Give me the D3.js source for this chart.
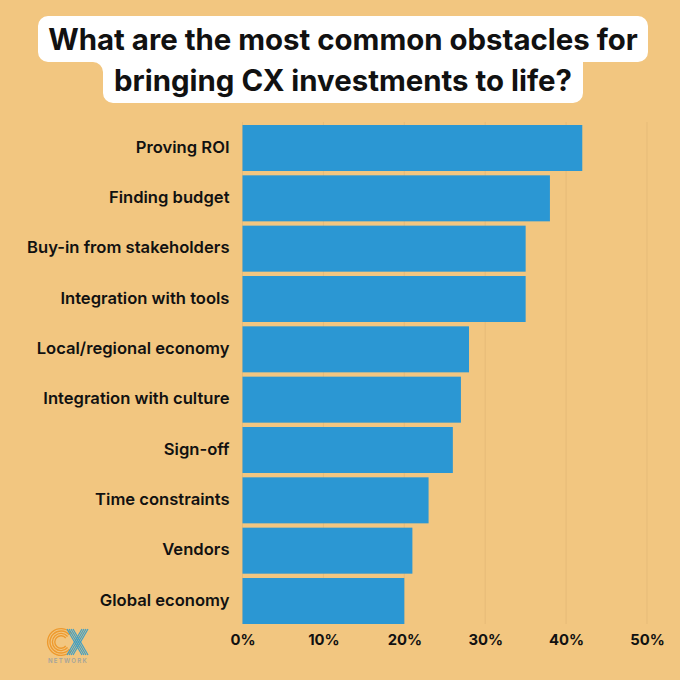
<!DOCTYPE html>
<html>
<head>
<meta charset="utf-8">
<script src="https://cdn.jsdelivr.net/npm/d3@7"></script>
<style>
  html, body { margin: 0; padding: 0; background: #f2c680; }
  svg { display: block; font-family: Inter, sans-serif; }
</style>
</head>
<body>
<div id="chart"></div>
<script>
const categories = ['Proving ROI', 'Finding budget', 'Buy-in from stakeholders', 'Integration with tools',
  'Local/regional economy', 'Integration with culture', 'Sign-off', 'Time constraints', 'Vendors', 'Global economy'];
const values = [42, 38, 35, 35, 28, 27, 26, 23, 21, 20];
const xTicks = [0, 10, 20, 30, 40, 50];
const titleLines = ['What are the most common obstacles for', 'bringing CX investments to life?'];

const width = 680, height = 680;

const svg = d3.select('#chart').append('svg')
  .attr('width', width)
  .attr('height', height);

svg.append('rect').attr('width', width).attr('height', height).attr('fill', '#f2c680');

const x = d3.scaleLinear().domain([0, 50]).range([242.5, 647]);
const y = d3.scaleBand().domain(categories).range([125, 624]).paddingInner(0.086).paddingOuter(0);

// faint grid lines
svg.append('g').selectAll('line')
  .data(xTicks)
  .enter().append('line')
  .attr('x1', d => x(d)).attr('x2', d => x(d))
  .attr('y1', 122).attr('y2', 624)
  .attr('stroke', '#e6bb78')
  .attr('stroke-width', 1);

svg.append('g').selectAll('rect')
  .data(values)
  .enter().append('rect')
  .attr('x', x(0))
  .attr('y', (d, i) => y(categories[i]))
  .attr('width', d => x(d) - x(0))
  .attr('height', y.bandwidth())
  .attr('fill', '#2b97d3');

const xAxis = svg.append('g')
  .attr('transform', 'translate(0,624)')
  .call(d3.axisBottom(x).tickValues(xTicks).tickSize(0).tickPadding(10).tickFormat(d => d + '%'));
xAxis.select('.domain').remove();
xAxis.selectAll('text')
  .attr('font-family', 'Inter, sans-serif')
  .attr('font-size', 14.8)
  .attr('font-weight', 700)
  .attr('fill', '#111');

const yAxis = svg.append('g')
  .attr('transform', 'translate(242.5,-0.5)')
  .call(d3.axisLeft(y).tickSize(0).tickPadding(13));
yAxis.select('.domain').remove();
yAxis.selectAll('text')
  .attr('font-family', 'Inter, sans-serif')
  .attr('font-size', 16.6)
  .attr('font-weight', 600)
  .attr('fill', '#111');

// title plates
const plate = d3.path();
plate.moveTo(48, 16);
plate.lineTo(638, 16);
plate.arcTo(648, 16, 648, 26, 10);
plate.lineTo(648, 52);
plate.arcTo(648, 62, 638, 62, 10);
plate.lineTo(583, 62);
plate.lineTo(583, 93);
plate.arcTo(583, 103, 573, 103, 10);
plate.lineTo(113, 103);
plate.arcTo(103, 103, 103, 93, 10);
plate.lineTo(103, 72);
plate.arcTo(103, 62, 93, 62, 10);
plate.lineTo(48, 62);
plate.arcTo(38, 62, 38, 52, 10);
plate.lineTo(38, 26);
plate.arcTo(38, 16, 48, 16, 10);
plate.closePath();
svg.append('path').attr('d', plate.toString()).attr('fill', '#fff');

svg.append('g').selectAll('text')
  .data(titleLines)
  .enter().append('text')
  .attr('x', 343)
  .attr('y', (d, i) => 50 + i * 41)
  .attr('text-anchor', 'middle')
  .attr('font-size', 29.4)
  .attr('font-weight', 700)
  .attr('fill', '#111')
  .text(d => d);

// logo
const logo = svg.append('g');
[13.4, 11, 8.6, 6.2].forEach(r => {
  logo.append('path')
    .attr('d', d3.arc()({ innerRadius: r - 0.7, outerRadius: r + 0.7, startAngle: Math.PI / 2 + 0.7, endAngle: Math.PI * 2.5 - 0.7 }))
    .attr('transform', 'translate(61,642)')
    .attr('fill', '#ee9a2e');
});
[-3, -1, 1, 3].forEach(o => {
  logo.append('line').attr('x1', 70 + o).attr('y1', 629).attr('x2', 85 + o).attr('y2', 655)
    .attr('stroke', '#3f9fc4').attr('stroke-width', 1.2);
  logo.append('line').attr('x1', 85 + o).attr('y1', 629).attr('x2', 70 + o).attr('y2', 655)
    .attr('stroke', '#3f9fc4').attr('stroke-width', 1.2);
});
logo.append('text')
  .attr('x', 68).attr('y', 663)
  .attr('text-anchor', 'middle')
  .attr('font-size', 6)
  .attr('font-weight', 600)
  .attr('letter-spacing', 1.3)
  .attr('fill', '#a3a49c')
  .text('NETWORK');
</script>
</body>
</html>
